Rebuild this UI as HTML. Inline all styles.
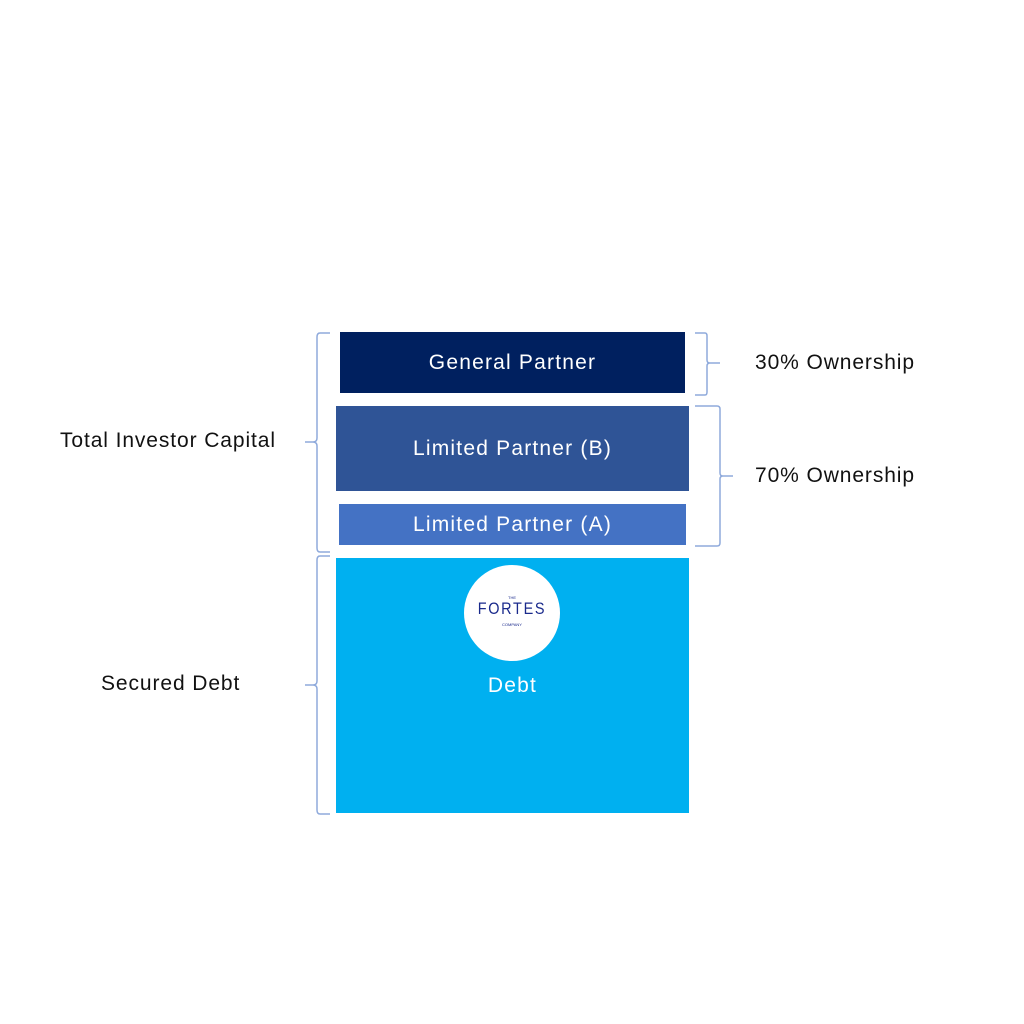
<!DOCTYPE html>
<html><head><style>
body{margin:0;width:1024px;height:1024px;background:#fff;position:relative;font-family:"Liberation Sans",sans-serif;overflow:hidden}
.b{position:absolute;color:#fff;display:flex;align-items:center;justify-content:center;font-size:21px;letter-spacing:1.2px}
.t{position:absolute;font-size:21px;color:#111;letter-spacing:0.9px}
</style></head><body>
<div class="b" style="left:340px;top:332px;width:345px;height:61px;background:#00205f">General Partner</div>
<div class="b" style="left:336px;top:406px;width:353px;height:85px;background:#2f5496">Limited Partner (B)</div>
<div class="b" style="left:339px;top:504px;width:347px;height:41px;background:#4472c4">Limited Partner (A)</div>
<div style="position:absolute;left:336px;top:558px;width:353px;height:255px;background:#00b0f0"></div>
<div style="position:absolute;left:464px;top:565px;width:96px;height:96px;border-radius:50%;background:#fff;text-align:center;color:#1a2a8c">
<div style="font-size:4px;margin-top:30px">THE</div>
<div style="font-size:17px;letter-spacing:2px;line-height:18px;transform:scaleX(0.85)">FORTES</div>
<div style="font-size:4px;margin-top:4px">COMPANY</div></div>
<div class="b" style="left:336px;top:672px;width:353px;height:28px">Debt</div>
<div class="t" style="left:60px;top:429px">Total Investor Capital</div>
<div class="t" style="left:101px;top:672px">Secured Debt</div>
<div class="t" style="left:755px;top:351px">30% Ownership</div>
<div class="t" style="left:755px;top:464px">70% Ownership</div>
<svg width="1024" height="1024" style="position:absolute;left:0;top:0" fill="none" stroke="#8faadc" stroke-width="1.5">
<path d="M330 333 H320 Q317 333 317 337 V438 Q317 442 313 442 H305 M313 442 Q317 442 317 446 V548 Q317 552 320 552 H330"/>
<path d="M330 556 H320 Q317 556 317 560 V681 Q317 685 313 685 H305 M313 685 Q317 685 317 689 V810 Q317 814 320 814 H330"/>
<path d="M695 333 H705 Q707 333 707 336 V360 Q707 363 710 363 H720 M710 363 Q707 363 707 366 V392 Q707 395 705 395 H695"/>
<path d="M695 406 H717 Q720 406 720 409 V473 Q720 476 723 476 H733 M723 476 Q720 476 720 479 V543 Q720 546 717 546 H695"/>
</svg>
</body></html>
